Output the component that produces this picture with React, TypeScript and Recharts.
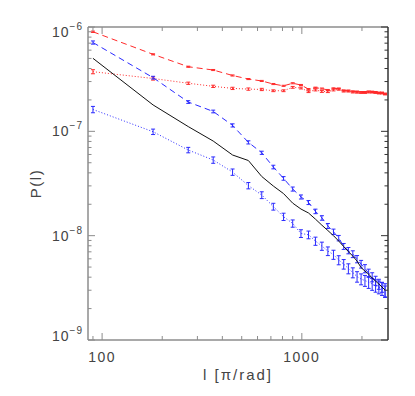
import { LineChart, Line, XAxis, YAxis, ErrorBar } from "recharts";

const multipoles = [
  90, 180, 270, 360, 450, 540, 630, 720, 810, 900, 990, 1080, 1170, 1260, 1350,
  1440, 1530, 1620, 1710, 1800, 1890, 1980, 2070, 2160, 2250, 2340, 2430, 2520, 2610,
];

// red dashed
const redDashed = [
  9.0e-7, 5.47e-7, 4.16e-7, 3.87e-7, 3.43e-7, 3.17e-7, 3.04e-7, 2.84e-7, 2.73e-7, 2.89e-7,
  2.78e-7, 2.54e-7, 2.62e-7, 2.57e-7, 2.49e-7, 2.58e-7, 2.57e-7, 2.46e-7, 2.45e-7, 2.41e-7,
  2.4e-7, 2.36e-7, 2.36e-7, 2.4e-7, 2.38e-7, 2.36e-7, 2.33e-7, 2.33e-7, 2.28e-7,
];
// red dotted (with error bars)
const redDotted = [
  3.73e-7, 3.21e-7, 2.89e-7, 2.7e-7, 2.58e-7, 2.54e-7, 2.52e-7, 2.45e-7, 2.45e-7, 2.64e-7,
  2.6e-7, 2.4e-7, 2.49e-7, 2.41e-7, 2.4e-7, 2.49e-7, 2.53e-7, 2.43e-7, 2.43e-7, 2.38e-7,
  2.37e-7, 2.36e-7, 2.36e-7, 2.38e-7, 2.38e-7, 2.36e-7, 2.33e-7, 2.33e-7, 2.28e-7,
];
// blue dashed
const blueDashed = [
  7.1e-7, 3.27e-7, 1.91e-7, 1.55e-7, 1.14e-7, 7.84e-8, 6.23e-8, 4.55e-8, 3.54e-8, 2.8e-8,
  2.35e-8, 2.08e-8, 1.71e-8, 1.48e-8, 1.24e-8, 1.09e-8, 9.48e-9, 7.9e-9, 7.2e-9, 6.66e-9,
  5.97e-9, 5.34e-9, 4.84e-9, 4.38e-9, 4.01e-9, 3.71e-9, 3.44e-9, 3.22e-9, 2.94e-9,
];
// blue dotted
const blueDotted = [
  1.62e-7, 9.91e-8, 6.62e-8, 5.31e-8, 4.07e-8, 3.02e-8, 2.45e-8, 1.9e-8, 1.52e-8, 1.31e-8,
  1.05e-8, 1.02e-8, 8.88e-9, 7.95e-9, 7.12e-9, 6.59e-9, 5.84e-9, 5.34e-9, 4.84e-9, 4.43e-9,
  4.05e-9, 3.84e-9, 3.71e-9, 3.59e-9, 3.44e-9, 3.32e-9, 3.22e-9, 3.11e-9, 3.01e-9,
];
// black solid
const blackSolid = [
  5.01e-7, 1.79e-7, 1.11e-7, 8.07e-8, 5.93e-8, 5.25e-8, 3.69e-8, 2.99e-8, 2.53e-8, 2.05e-8,
  1.8e-8, 1.65e-8, 1.44e-8, 1.26e-8, 1.12e-8, 1.0e-8, 8.88e-9, 7.86e-9, 7.04e-9, 6.37e-9,
  5.71e-9, 4.94e-9, 4.58e-9, 4.28e-9, 3.92e-9, 3.67e-9, 3.44e-9, 3.22e-9, 3.01e-9,
];

// relative half-heights of the error bars
const redDashedErr = [
  0.015, 0.012, 0.012, 0.012, 0.012, 0.012, 0.012, 0.012, 0.012, 0.012, 0.012, 0.012, 0.012, 0.012, 0.012,
  0.012, 0.012, 0.012, 0.012, 0.012, 0.012, 0.012, 0.012, 0.012, 0.012, 0.012, 0.012, 0.012, 0.012,
];
const redDottedErr = [
  0.045, 0.035, 0.025, 0.025, 0.025, 0.025, 0.025, 0.02, 0.02, 0.02, 0.02, 0.02, 0.02, 0.02, 0.02,
  0.02, 0.02, 0.02, 0.02, 0.02, 0.02, 0.02, 0.02, 0.02, 0.02, 0.02, 0.02, 0.02, 0.02,
];
const blueDashedErr = [
  0.035, 0.03, 0.03, 0.03, 0.035, 0.035, 0.035, 0.04, 0.04, 0.045, 0.045, 0.045, 0.05, 0.05, 0.055,
  0.06, 0.06, 0.065, 0.07, 0.075, 0.08, 0.085, 0.09, 0.09, 0.1, 0.1, 0.11, 0.11, 0.12,
];
const blueDottedErr = [
  0.07, 0.06, 0.06, 0.07, 0.07, 0.07, 0.075, 0.075, 0.08, 0.08, 0.085, 0.085, 0.09, 0.09, 0.095,
  0.1, 0.1, 0.105, 0.11, 0.11, 0.115, 0.12, 0.12, 0.13, 0.13, 0.135, 0.14, 0.14, 0.15,
];

const xTicks = [90, 100, 200, 300, 400, 500, 600, 700, 800, 900, 1000, 2000];
const yTicks = [
  1e-9, 2e-9, 3e-9, 4e-9, 5e-9, 6e-9, 7e-9, 8e-9, 9e-9,
  1e-8, 2e-8, 3e-8, 4e-8, 5e-8, 6e-8, 7e-8, 8e-8, 9e-8,
  1e-7, 2e-7, 3e-7, 4e-7, 5e-7, 6e-7, 7e-7, 8e-7, 9e-7, 1e-6,
];

const data = multipoles.map((l, i) => ({
  l,
  rd: redDashed[i],
  rdErr: redDashed[i] * redDashedErr[i],
  rt: redDotted[i],
  rtErr: redDotted[i] * redDottedErr[i],
  bd: blueDashed[i],
  bdErr: blueDashed[i] * blueDashedErr[i],
  bt: blueDotted[i],
  btErr: blueDotted[i] * blueDottedErr[i],
  bk: blackSolid[i],
}));

const TOP = 27;
const BOTTOM = 340;
const axisGray = "#8c8c8c";
const textGray = "#444";
const font = "'Liberation Sans', Arial, sans-serif";
const red = "#ff2a2a";
const blue = "#2a2aff";

const isMajor = (v: number) => {
  const e = Math.round(Math.log10(v));
  return Math.abs(v / Math.pow(10, e) - 1) < 1e-6;
};

const XTick = (props: any) => {
  const { x, y, payload, side } = props;
  const v = payload.value;
  const major = isMajor(v);
  const len = major ? 7 : 4;
  const dir = side === "bottom" ? -1 : 1;
  return (
    <g>
      <line x1={x} y1={y} x2={x} y2={y + dir * len} stroke={axisGray} strokeWidth={1} />
      {side === "bottom" && major && (
        <text x={x} y={y + 22} textAnchor="middle" fontFamily={font} fontSize={14} letterSpacing={1.5} fill={textGray}>
          {v}
        </text>
      )}
    </g>
  );
};

const YTick = (props: any) => {
  const { x, y, payload, side } = props;
  const v = payload.value;
  const major = isMajor(v);
  const len = major ? 7 : 3.5;
  const dir = side === "left" ? 1 : -1;
  const exp = Math.round(Math.log10(v));
  const base = Math.min(Math.max(y + 5, TOP + 10), BOTTOM + 1);
  return (
    <g>
      <line x1={x} y1={y} x2={x + dir * len} y2={y} stroke={side === "left" ? axisGray : "#333"} strokeWidth={1} />
      {side === "left" && major && (
        <text x={x - 5} y={base} textAnchor="end" fontFamily={font} fontSize={14} letterSpacing={1} fill={textGray}>
          10
          <tspan dy={-7} fontSize={10}>
            {"\u2212" + Math.abs(exp)}
          </tspan>
        </text>
      )}
    </g>
  );
};

export default function App() {
  return (
    <div style={{ position: "absolute", left: 0, top: 0, background: "#fff" }}>
      <LineChart
        width={415}
        height={396}
        data={data}
        margin={{ top: 26, right: 26, bottom: 0, left: 0 }}
      >
        <XAxis
          dataKey="l"
          type="number"
          scale="log"
          domain={[85, 2700]}
          allowDataOverflow
          ticks={xTicks}
          interval={0}
          height={56}
          tickSize={0}
          tickMargin={0}
          tickLine={false}
          axisLine={{ stroke: axisGray, strokeWidth: 1.5 }}
          tick={(p: any) => <XTick {...p} side="bottom" />}
          label={{
            content: (p: any) => {
              const vb = p.viewBox;
              return (
                <text x={vb.x + vb.width / 2} y={vb.y + 40} textAnchor="middle" fontFamily={font} fontSize={15} letterSpacing={2} fill={textGray}>
                  l [π/rad]
                </text>
              );
            },
          }}
        />
        <XAxis
          xAxisId="top"
          orientation="top"
          dataKey="l"
          type="number"
          scale="log"
          domain={[85, 2700]}
          allowDataOverflow
          ticks={xTicks}
          interval={0}
          height={1}
          tickSize={0}
          tickMargin={0}
          tickLine={false}
          axisLine={{ stroke: axisGray, strokeWidth: 1.5 }}
          tick={(p: any) => <XTick {...p} side="top" />}
        />
        <YAxis
          type="number"
          scale="log"
          domain={[1e-9, 1e-6]}
          allowDataOverflow
          ticks={yTicks}
          interval={0}
          width={88}
          tickSize={0}
          tickMargin={0}
          tickLine={false}
          axisLine={{ stroke: axisGray, strokeWidth: 1.5 }}
          tick={(p: any) => <YTick {...p} side="left" />}
          label={{
            content: (p: any) => {
              const vb = p.viewBox;
              const cx = 35;
              const cy = vb.y + vb.height / 2;
              return (
                <text x={cx} y={cy} textAnchor="middle" dominantBaseline="central" transform={`rotate(-90 ${cx} ${cy})`} fontFamily={font} fontSize={15} letterSpacing={1.5} fill={textGray}>
                  P(l)
                </text>
              );
            },
          }}
        />
        <YAxis
          yAxisId="right"
          orientation="right"
          type="number"
          scale="log"
          domain={[1e-9, 1e-6]}
          allowDataOverflow
          ticks={yTicks}
          interval={0}
          width={1}
          tickSize={0}
          tickMargin={0}
          tickLine={false}
          axisLine={{ stroke: "#333", strokeWidth: 1.5 }}
          tick={(p: any) => <YTick {...p} side="right" />}
        />
        <Line dataKey="rd" stroke={red} strokeWidth={1} strokeDasharray="6 4" dot={false} isAnimationActive={false}>
          <ErrorBar dataKey="rdErr" width={2} stroke={red} strokeWidth={1} isAnimationActive={false} />
        </Line>
        <Line dataKey="rt" stroke={red} strokeWidth={1} strokeDasharray="1 2" dot={false} isAnimationActive={false}>
          <ErrorBar dataKey="rtErr" width={2} stroke={red} strokeWidth={1} isAnimationActive={false} />
        </Line>
        <Line dataKey="bd" stroke={blue} strokeWidth={1} strokeDasharray="6 4" dot={false} isAnimationActive={false}>
          <ErrorBar dataKey="bdErr" width={2} stroke={blue} strokeWidth={1} isAnimationActive={false} />
        </Line>
        <Line dataKey="bt" stroke={blue} strokeWidth={1} strokeDasharray="1 2" dot={false} isAnimationActive={false}>
          <ErrorBar dataKey="btErr" width={2} stroke={blue} strokeWidth={1} isAnimationActive={false} />
        </Line>
        <Line dataKey="bk" stroke="#111" strokeWidth={1} dot={false} isAnimationActive={false} />
      </LineChart>
    </div>
  );
}
